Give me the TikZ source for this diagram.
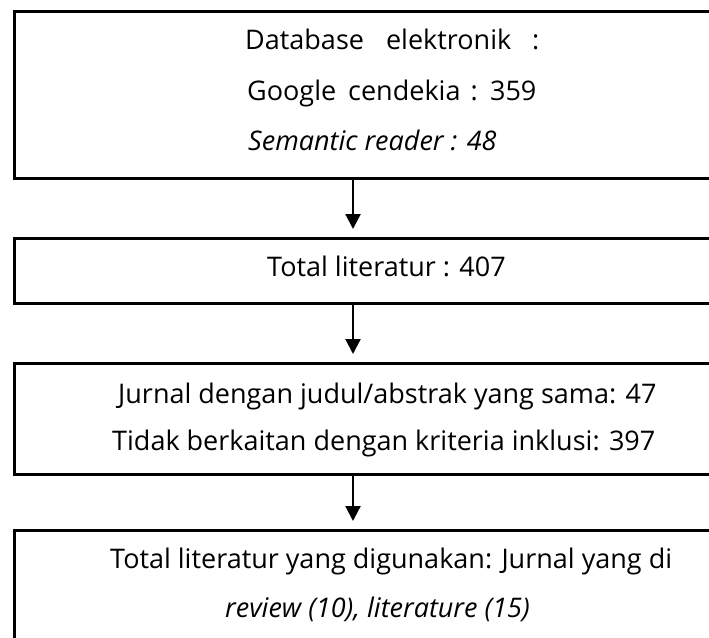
\documentclass[tikz,border=0pt]{standalone}
\usepackage{fontspec}
\setmainfont{Open Sans}
\usetikzlibrary{arrows.meta}

\tikzset{
	box/.style={draw, line width=2.5pt, rectangle, anchor=north west, minimum width=760pt, inner sep=0pt},
	txt/.style={anchor=base west, inner sep=0pt, font=\fontsize{27}{32}\selectfont},
	arr/.style={line width=2.2pt, -{Triangle[length=15pt, width=15pt]}, shorten >=8pt},
}

\begin{document}
\begin{tikzpicture}[x=1pt, y=-1pt]
	\useasboundingbox (0,0) rectangle (709,637);
	\clip (0,0) rectangle (709,637);

	% boxes 
	\node[box, minimum height=167pt] (b1) at (13,10) {};
	\node[box, minimum height=65pt] (b2) at (13,237) {};
	\node[box, minimum height=111pt] (b3) at (13,362) {};
	\node[box, minimum height=130pt] (b4) at (13,529) {};

	% texts 
	\node[txt] (t1) at (245,49) {Database\hspace{15pt} elektronik\hspace{14pt} :};
	\node[txt] (t2) at (247,100) {Google\hspace{5pt} cendekia\hspace{3pt} :\hspace{3pt} 359};
	\node[txt] (t3) at (248,150) {\itshape Semantic reader : 48};
	\node[txt] (t4) at (267,276) {Total literatur : 407};
	\node[txt] (t5) at (118,403) {Jurnal dengan judul/abstrak yang sama: 47};
	\node[txt] (t6) at (112,450) {Tidak berkaitan dengan kriteria inklusi: 397};
	\node[txt] (t7) at (110,568) {Total literatur yang digunakan: Jurnal yang di};
	\node[txt] (t8) at (225,617) {\itshape review (10), literature (15)};

	% arrows 
	\coordinate (col) at (353,0);
	\foreach \a/\b in {b1/b2, b2/b3, b3/b4}{
		\draw[arr] (\a.south -| col) -- (\b.north -| col);
	}
\end{tikzpicture}
\end{document}
